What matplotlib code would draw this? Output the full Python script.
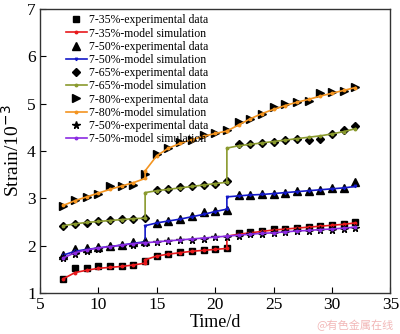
import numpy as np
import matplotlib.pyplot as plt

plt.rcParams['font.family'] = ['Liberation Serif', 'DejaVu Serif']

# measurement days (14 and 21 appear twice in the model curves: load steps)
days = list(range(7, 33))
days_step = [7, 8, 9, 10, 11, 12, 13, 14, 14, 15, 16, 17, 18, 19, 20, 21, 21,
             22, 23, 24, 25, 26, 27, 28, 29, 30, 31, 32]

# experimental data
exp_35 = [1.30, 1.53, 1.53, 1.56, 1.56, 1.56, 1.60, 1.68, 1.77, 1.82, 1.86, 1.88, 1.90,
          1.93, 1.95, 2.27, 2.29, 2.31, 2.35, 2.36, 2.37, 2.39, 2.41, 2.43, 2.46, 2.50]
exp_50 = [1.81, 1.93, 1.95, 1.98, 2.00, 2.02, 2.07, 2.09, 2.48, 2.52, 2.56, 2.62, 2.72,
          2.74, 2.76, 3.07, 3.07, 3.08, 3.10, 3.12, 3.15, 3.16, 3.18, 3.21, 3.22, 3.34]
exp_65 = [2.41, 2.46, 2.47, 2.52, 2.55, 2.57, 2.57, 2.58, 3.17, 3.20, 3.24, 3.26, 3.29,
          3.31, 3.36, 4.14, 4.15, 4.17, 4.20, 4.24, 4.25, 4.24, 4.25, 4.35, 4.45, 4.52]
exp_80 = [2.83, 2.97, 3.02, 3.08, 3.25, 3.27, 3.29, 3.52, 3.93, 4.07, 4.19, 4.24, 4.33,
          4.37, 4.44, 4.62, 4.68, 4.79, 4.92, 5.00, 5.03, 5.06, 5.22, 5.25, 5.26, 5.36]
exp_50b = [1.73, 1.82, 1.88, 1.93, 1.97, 2.00, 2.02, 2.05, 2.08, 2.09, 2.11, 2.12, 2.15,
           2.18, 2.19, 2.21, 2.24, 2.25, 2.27, 2.28, 2.30, 2.31, 2.33, 2.34, 2.36, 2.37]

# model simulation
sim_35 = [1.30, 1.43, 1.48, 1.52, 1.54, 1.56, 1.59, 1.63, 1.70, 1.78, 1.82, 1.85, 1.88,
          1.90, 1.92, 1.94, 2.20, 2.24, 2.27, 2.30, 2.33, 2.35, 2.37, 2.39, 2.41, 2.43,
          2.45, 2.48]
sim_50 = [1.80, 1.88, 1.92, 1.95, 1.98, 2.01, 2.05, 2.08, 2.42, 2.48, 2.52, 2.56, 2.61,
          2.66, 2.72, 2.77, 3.03, 3.05, 3.07, 3.08, 3.10, 3.12, 3.14, 3.16, 3.18, 3.20,
          3.22, 3.25]
sim_65 = [2.42, 2.46, 2.49, 2.51, 2.53, 2.55, 2.57, 2.58, 3.12, 3.16, 3.19, 3.22, 3.25,
          3.28, 3.31, 3.34, 4.06, 4.11, 4.14, 4.17, 4.20, 4.23, 4.26, 4.29, 4.32, 4.36,
          4.41, 4.47]
sim_80 = [2.85, 2.95, 3.03, 3.11, 3.19, 3.26, 3.33, 3.42, 3.58, 3.90, 4.06, 4.16, 4.24,
          4.31, 4.37, 4.42, 4.42, 4.55, 4.68, 4.79, 4.88, 4.96, 5.03, 5.09, 5.16, 5.22,
          5.28, 5.34]
sim_50b = [1.74, 1.85, 1.91, 1.95, 1.98, 2.01, 2.04, 2.06, 2.06, 2.08, 2.10, 2.12, 2.14,
           2.16, 2.18, 2.20, 2.20, 2.22, 2.24, 2.26, 2.27, 2.29, 2.31, 2.32, 2.34, 2.35,
           2.37, 2.39]

fig = plt.figure(figsize=(4, 3.34), dpi=100)
ax = fig.add_axes([0.1, 0.123, 0.876, 0.85])

ms = 5
ax.plot(days, exp_35, 's', color='black', ms=ms, label='7-35%-experimental data')
ax.plot(days_step, sim_35, '-o', color='#e8191c', lw=1.2, ms=1.8, label='7-35%-model simulation')
ax.plot(days, exp_50, '^', color='black', ms=ms + 0.5, label='7-50%-experimental data')
ax.plot(days_step, sim_50, '-v', color='#1419c8', lw=1.2, ms=1.8, label='7-50%-model simulation')
ax.plot(days, exp_65, 'D', color='black', ms=ms - 0.5, label='7-65%-experimental data')
ax.plot(days_step, sim_65, '-o', color='#8a9a2e', lw=1.2, ms=1.8, label='7-65%-model simulation')
ax.plot(days, exp_80, '>', color='black', ms=ms + 0.5, label='7-80%-experimental data')
ax.plot(days_step, sim_80, '-o', color='#f39420', lw=1.2, ms=1.8, label='7-80%-model simulation')
ax.plot(days, exp_50b, '*', color='black', ms=ms + 0.5, label='7-50%-experimental data')
ax.plot(days_step, sim_50b, '-o', color='#8b2be2', lw=1.2, ms=1.8, label='7-50%-model simulation')

ax.set_xlim(5, 35)
ax.set_ylim(1, 7)
ax.set_xticks(range(5, 36, 5))
ax.set_yticks(range(1, 8))
ax.tick_params(direction='in', labelsize=12.5, length=4, pad=3)
ax.set_xlabel('Time/d', fontsize=13, labelpad=1)
ax.set_ylabel('Strain/10$^{-3}$', fontsize=14, labelpad=3)
for s in ax.spines.values():
    s.set_linewidth(1.0)
    s.set_color('#333333')

ax.legend(loc='upper left', bbox_to_anchor=(0.05, 1.01), frameon=False, fontsize=8.5,
          handlelength=1.8, handletextpad=0.15, labelspacing=0.1, borderpad=0.2)

fig.text(0.985, 0.01, '@有色金属在线', color='#f2b8b8', fontsize=8, ha='right', va='bottom',
         family=['Noto Sans CJK SC', 'DejaVu Sans'])

fig.savefig('out.png', dpi=100)
